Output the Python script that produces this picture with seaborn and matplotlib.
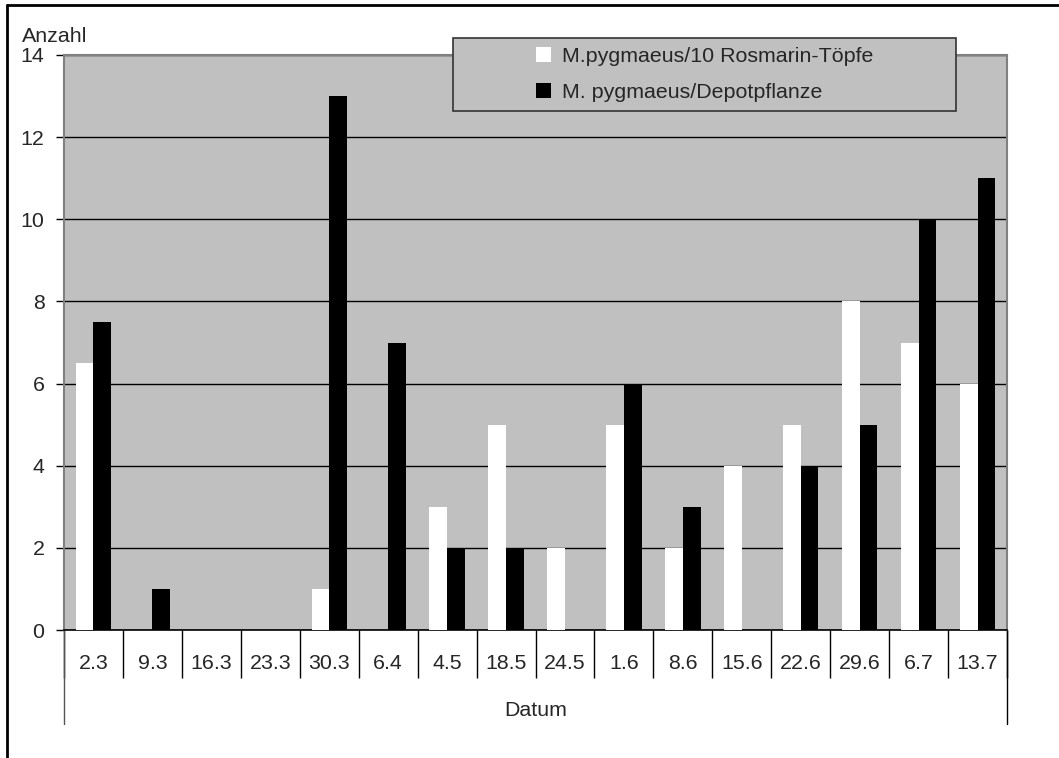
import matplotlib
matplotlib.use("Agg")
import matplotlib.pyplot as plt
import matplotlib.transforms as mtransforms
from matplotlib.lines import Line2D
from matplotlib.patches import Rectangle
import pandas as pd
import seaborn as sns

# Survey dates and counts of Macrolophus pygmaeus
dates = ["2.3", "9.3", "16.3", "23.3", "30.3", "6.4", "4.5", "18.5", "24.5",
         "1.6", "8.6", "15.6", "22.6", "29.6", "6.7", "13.7"]
per_10_pots = [6.5, 0, 0, 0, 1, 0, 3, 5, 2, 5, 2, 4, 5, 8, 7, 6]
per_depot_plant = [7.5, 1, 0, 0, 13, 7, 2, 2, 0, 6, 3, 0, 4, 5, 10, 11]
series_names = ["M.pygmaeus/10 Rosmarin-Töpfe", "M. pygmaeus/Depotpflanze"]
y_ticks = [0, 2, 4, 6, 8, 10, 12, 14]

df = pd.DataFrame({
    "Datum": dates * 2,
    "Anzahl": per_10_pots + per_depot_plant,
    "Serie": [series_names[0]] * len(dates) + [series_names[1]] * len(dates),
})

sns.set_style("white")
plt.rcParams["font.family"] = ["Liberation Sans", "DejaVu Sans"]
FS = 15.4

W, H = 1059, 758
fig = plt.figure(figsize=(W / 100, H / 100), dpi=100)
L, R, T, B = 64, 1007, 55, 630
ax = fig.add_axes([L / W, 1 - B / H, (R - L) / W, (B - T) / H])

grey = "#C0C0C0"
ax.set_facecolor(grey)

sns.barplot(data=df, x="Datum", y="Anzahl", hue="Serie", order=dates,
            hue_order=series_names, palette=["white", "black"],
            width=0.6, saturation=1, linewidth=0, ax=ax, legend=False,
            zorder=3)

ax.set_ylim(0, 14)
ax.set_xlim(-0.5, len(dates) - 0.5)
ax.set_yticks(y_ticks)
ax.set_yticklabels([str(v) for v in y_ticks], fontsize=FS)
ax.yaxis.grid(True, color="black", linewidth=1.0)
ax.set_axisbelow(True)
ax.tick_params(axis="y", direction="out", length=6, width=1, color="black",
               pad=8, left=True)

# Category labels sitting in cells below the axis
ax.set_xticks(range(len(dates)))
ax.set_xticklabels(dates, fontsize=FS)
ax.tick_params(axis="x", which="major", length=0, pad=17)
ax.set_xticks([i - 0.5 for i in range(len(dates) + 1)], minor=True)
ax.tick_params(axis="x", which="minor", direction="out", length=34.5,
               width=1, color="black", bottom=True)
ax.set_xlabel("")
ax.set_ylabel("")

for side in ["top", "right", "left"]:
    ax.spines[side].set_visible(True)
    ax.spines[side].set_color("#808080")
    ax.spines[side].set_linewidth(1.5)
ax.spines["bottom"].set_color("black")
ax.spines["bottom"].set_linewidth(1.2)

# Outer edges of the category axis reaching down to the axis title
trans = mtransforms.blended_transform_factory(ax.transData, fig.transFigure)
for xpos in (-0.5, len(dates) - 0.5):
    ax.add_line(Line2D([xpos, xpos], [1 - B / H, 1 - 724 / H], transform=trans,
                       color="#555555" if xpos < 0 else "black", lw=1,
                       clip_on=False))

fig.text((L + R) / 2 / W, 1 - 710 / H, "Datum", ha="center", va="center",
         fontsize=FS)
fig.text(22 / W, 1 - 42 / H, "Anzahl", ha="left", va="baseline", fontsize=FS)

# Legend: wide grey box with the entries centred inside
lx0, lx1, ly0, ly1 = 453, 956, 38, 111
fig.add_artist(Rectangle((lx0 / W, 1 - ly1 / H), (lx1 - lx0) / W,
                         (ly1 - ly0) / H, transform=fig.transFigure,
                         facecolor=grey, edgecolor="#333333", lw=1.2,
                         zorder=5))
handles = [Rectangle((0, 0), 1, 1, facecolor="white", edgecolor="none"),
           Rectangle((0, 0), 1, 1, facecolor="black", edgecolor="none")]
leg = fig.legend(handles, series_names, loc="center",
                 bbox_to_anchor=((lx0 + lx1) / 2 / W, 1 - (ly0 + ly1) / 2 / H),
                 fontsize=FS, frameon=False, handlelength=0.72,
                 handleheight=0.72, handletextpad=0.5, borderaxespad=0,
                 borderpad=0, labelspacing=0.8)
leg.set_zorder(6)

# Frame of the chart area (left and top edges)
fig.add_artist(Line2D([7 / W, 7 / W], [0, 1 - 5 / H], transform=fig.transFigure,
                      color="black", lw=2))
fig.add_artist(Line2D([7 / W, 1], [1 - 5 / H, 1 - 5 / H],
                      transform=fig.transFigure, color="black", lw=2))

fig.savefig("out.png", dpi=100, facecolor="white")
